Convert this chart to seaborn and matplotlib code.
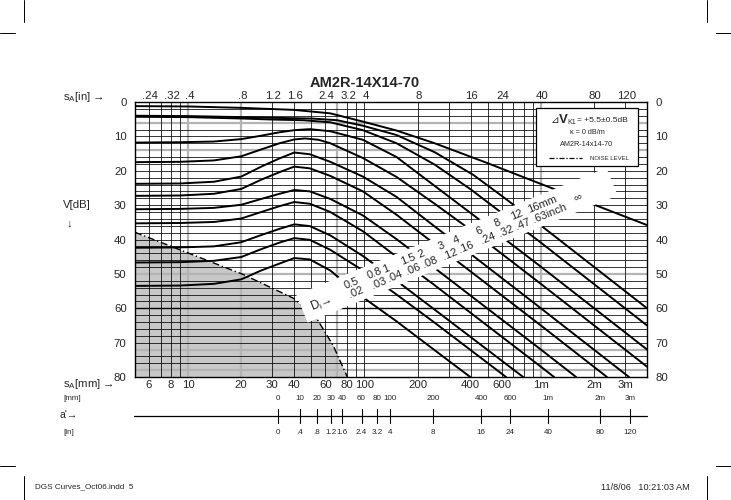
import numpy as np
import pandas as pd
import matplotlib
matplotlib.use("Agg")
import matplotlib.pyplot as plt
import matplotlib.transforms as mtransforms
from matplotlib.patches import Polygon, Rectangle
from matplotlib.lines import Line2D
import seaborn as sns

# ---------------- data ----------------
# distance s_A in mm, gain V in dB
inf_a_mm = [5, 10, 20, 40, 64, 98, 152, 250, 500, 800, 1229]
inf_a_db = [1.2, 1.3, 1.7, 2.3, 3.3, 5.7, 8.3, 12.0, 17.8, 21.9, 25.6]
inf_b_mm = [1900, 4000]
inf_b_db = [29.4, 35.8]
d16_mm = [5, 10, 20, 30, 50, 70, 98, 152, 250, 414, 600, 1000, 4000]
d16_db = [4.0, 4.1, 4.4, 4.6, 4.8, 5.3, 6.9, 9.6, 14.6, 21.2, 27.3, 35.9, 60.0]
d12_mm = [5, 10, 20, 30, 45, 64, 98, 152, 250, 400, 1000, 4000]
d12_db = [4.3, 4.4, 4.8, 5.1, 5.3, 5.9, 8.2, 12.0, 18.2, 25.4, 40.9, 65.0]
d8_mm = [5, 9, 14, 20, 26, 33, 40, 49, 64, 98, 152, 250, 400, 1000, 4000]
d8_db = [11.8, 11.7, 11.5, 10.8, 9.8, 8.8, 8.2, 7.9, 8.5, 11.0, 16.0, 24.4, 32.3, 47.9, 72.0]
d6_mm = [5, 9, 14, 20, 26, 33, 40, 46, 55, 64, 98, 152, 250, 400, 1000, 4000]
d6_db = [17.5, 17.4, 17.0, 15.8, 13.8, 12.0, 10.9, 10.6, 11.0, 12.0, 16.3, 21.8, 29.6, 37.2, 52.9, 77.0]
d4_mm = [5, 9, 14, 20, 26, 33, 40, 49, 64, 98, 152, 250, 400, 1000, 3162]
d4_db = [23.8, 23.7, 23.2, 21.7, 18.8, 16.4, 14.7, 15.2, 17.4, 21.7, 27.6, 36.2, 44.2, 60.0, 80.0]
d3_mm = [5, 9, 14, 20, 26, 33, 40, 49, 64, 98, 152, 250, 400, 1000, 2371]
d3_db = [27.3, 27.2, 26.7, 25.3, 22.6, 20.4, 18.8, 19.3, 21.5, 26.0, 32.8, 41.3, 49.3, 65.0, 80.0]
d2_mm = [5, 9, 14, 20, 26, 33, 40, 49, 64, 98, 152, 250, 1000, 1585]
d2_db = [31.2, 31.1, 30.8, 29.9, 28.2, 26.7, 25.6, 26.0, 28.2, 33.0, 39.9, 48.3, 72.0, 80.0]
d15_mm = [5, 9, 14, 20, 26, 33, 40, 49, 64, 98, 152, 250, 1000, 1189]
d15_db = [35.3, 35.2, 34.9, 33.9, 32.0, 30.3, 29.1, 29.6, 32.0, 37.6, 45.0, 53.3, 77.0, 80.0]
d1_mm = [5, 9, 14, 20, 26, 33, 40, 49, 64, 98, 152, 250, 794]
d1_db = [42.4, 42.3, 42.0, 40.8, 38.7, 36.9, 35.6, 36.1, 38.8, 44.8, 52.0, 60.4, 80.0]
d08_mm = [5, 9, 14, 20, 26, 33, 40, 49, 64, 98, 152, 250, 635]
d08_db = [46.7, 46.6, 46.2, 45.1, 42.8, 40.9, 39.6, 40.1, 43.0, 49.0, 56.0, 64.2, 80.0]
d05_mm = [5, 9, 14, 20, 26, 33, 40, 49, 64, 76, 98, 152, 250, 398]
d05_db = [53.5, 53.4, 52.9, 51.6, 49.0, 47.0, 45.4, 45.8, 49.0, 52.2, 56.8, 63.8, 72.2, 80.0]

noise_mm = [5, 9, 20.6, 39.6, 53.5, 66.4, 80]
noise_db = [37.9, 43.0, 50.2, 57.1, 62.9, 70.8, 80.0]

D_mm_labels = ["0.5", "0.8", "1", "1.5", "2", "3", "4", "6", "8", "12", "16mm"]
D_in_labels = [".02", ".03", ".04", ".06", ".08", ".12", ".16", ".24", ".32", ".47", ".63inch"]

bottom_ticks = [6, 8, 10, 20, 30, 40, 60, 80, 100, 200, 400, 600, 1000, 2000, 3000]
bottom_labels = ["6", "8", "10", "20", "30", "40", "60", "80", "100", "200", "400", "600", "1m", "2m", "3m"]
top_ticks_in = [0.24, 0.32, 0.4, 0.8, 1.2, 1.6, 2.4, 3.2, 4, 8, 16, 24, 40, 80, 120]
top_labels = [".24", ".32", ".4", ".8", "1.2", "1.6", "2.4", "3.2", "4", "8", "16", "24", "40", "80", "120"]
db_ticks = [0, 10, 20, 30, 40, 50, 60, 70, 80]

aprime_mm = [0, 10, 20, 30, 40, 60, 80, 100, 200, 400, 600, 1000, 2000, 3000]
aprime_mm_labels = ["0", "10", "20", "30", "40", "60", "80", "100", "200", "400", "600", "1m", "2m", "3m"]
aprime_in_labels = ["0", ".4", ".8", "1.2", "1.6", "2.4", "3.2", "4", "8", "16", "24", "40", "80", "120"]

grid_v_black = [6, 7, 8, 9, 30, 40, 50, 60, 80, 90, 100, 200, 300, 400, 500, 600, 700, 800, 900, 2000, 3000]
grid_v_gray = [10, 20, 70, 1000]
grid_h_gray = [6, 14, 50, 72, 78]
grid_h_bold = [60]

# ---------------- build table ----------------
series = {
    "inf_a": (inf_a_mm, inf_a_db), "inf_b": (inf_b_mm, inf_b_db),
    "16": (d16_mm, d16_db), "12": (d12_mm, d12_db), "8": (d8_mm, d8_db),
    "6": (d6_mm, d6_db), "4": (d4_mm, d4_db), "3": (d3_mm, d3_db),
    "2": (d2_mm, d2_db), "1.5": (d15_mm, d15_db), "1": (d1_mm, d1_db),
    "0.8": (d08_mm, d08_db), "0.5": (d05_mm, d05_db),
}
rows = []
for name, (xs, ys) in series.items():
    for i, (x, y) in enumerate(zip(xs, ys)):
        rows.append({"curve": name, "order": i, "mm": x, "dB": y})
df = pd.DataFrame(rows)

# ---------------- style ----------------
sns.set_style("white")
plt.rcParams["font.family"] = ["Liberation Sans", "DejaVu Sans"]
plt.rcParams["mathtext.fontset"] = "custom"
plt.rcParams["mathtext.rm"] = "Liberation Sans"

W, H = 731, 500
fig = plt.figure(figsize=(W / 100, H / 100), dpi=100)
fig.patch.set_facecolor("white")


def P(x, y):
    return (x / W, 1 - y / H)


ax = fig.add_axes([135 / W, 1 - 377 / H, 512 / W, 275 / H])
ax.set_xscale("log")
ax.set_xlim(5, 4000)
ax.set_ylim(80, 0)

# noise region
ax.fill_between(noise_mm, noise_db, 80, color="#c8c8c8", lw=0, zorder=0)

# grid
for y in range(2, 80, 2):
    if y in grid_h_gray:
        ax.axhline(y, color="#b4b4b4", lw=1.6, zorder=1)
    elif y in grid_h_bold:
        ax.axhline(y, color="black", lw=1.0, zorder=1.2)
    else:
        ax.axhline(y, color="black", lw=0.55, zorder=1.2)
for x in grid_v_black:
    ax.axvline(x, color="black", lw=0.55, zorder=1.2)
for x in grid_v_gray:
    ax.axvline(x, color="#b4b4b4", lw=1.6, zorder=1)

# noise boundary
ax.plot(noise_mm, noise_db, color="black", lw=1.0, ls=(0, (5, 2, 1, 2)), zorder=3)

# DGS curves
sns.lineplot(data=df, x="mm", y="dB", units="curve", estimator=None, sort=False,
             color="black", lw=1.4, ax=ax, zorder=4, legend=False)

ax.set_xlim(5, 4000)
ax.set_ylim(80, 0)
ax.set_xlabel("")
ax.set_ylabel("")
for s in ax.spines.values():
    s.set_color("black")
    s.set_linewidth(1.0)
    s.set_zorder(10)

ax.set_xticks(bottom_ticks)
ax.set_xticklabels(bottom_labels)
ax.xaxis.set_minor_locator(matplotlib.ticker.NullLocator())
ax.set_yticks(db_ticks)
ax.set_yticklabels([str(v) for v in db_ticks])
ax.tick_params(axis="both", length=0, labelsize=8.2, pad=3)
ax.tick_params(axis="y", pad=6, labelright=True, labelleft=True)
ax.tick_params(axis="x", pad=2)

axt = ax.twiny()
axt.set_xscale("log")
axt.set_xlim(5, 4000)
axt.set_xticks([v * 25.4 for v in top_ticks_in])
axt.set_xticklabels(top_labels)
axt.xaxis.set_minor_locator(matplotlib.ticker.NullLocator())
axt.tick_params(axis="x", length=0, labelsize=8.2, pad=0.5)
for s in axt.spines.values():
    s.set_visible(False)

# diagonal white band with reflector sizes
ang = 22.3
th = np.deg2rad(ang)
hw = 15
nx, ny = np.sin(th) * hw, np.cos(th) * hw
x1, x2 = 302.0, 612.0
y1 = 289 - 0.41 * (x1 - 350)
y2 = 289 - 0.41 * (x2 - 350)
band = Polygon([P(x1 - nx, y1 - ny), P(x2 - nx, y2 - ny), P(x2 + nx, y2 + ny), P(x1 + nx, y1 + ny)],
               closed=True, transform=fig.transFigure, facecolor="white", edgecolor="none", zorder=6)
ax.add_patch(band)

lab_x = [346, 369, 385, 403, 420, 440, 456, 478, 496, 513, 530]
for xm, tmm, tin in zip(lab_x, D_mm_labels, D_in_labels):
    yc = 289 - 0.41 * (xm - 350)
    dx, dy = np.sin(th) * 5, np.cos(th) * 5
    fig.text(*P(xm - dx, yc - dy), tmm, rotation=ang, ha="left", va="center",
             fontsize=8, rotation_mode="anchor", zorder=7)
    fig.text(*P(xm + dx + 1, yc + dy), tin, rotation=ang, ha="left", va="center",
             fontsize=8, rotation_mode="anchor", zorder=7)
fig.text(*P(311, 308), "D$_\\mathrm{i}$→", rotation=ang, ha="left", va="center",
         fontsize=8.5, rotation_mode="anchor")
fig.text(*P(577, 197), "∞", rotation=ang, ha="center", va="center", fontsize=8, rotation_mode="anchor")

# legend box
ax.add_patch(Rectangle(P(536, 166), 102 / W, 58 / H, transform=fig.transFigure,
                       facecolor="white", edgecolor="black", lw=0.9, zorder=8))
fig.text(*P(551, 120), "⊿", fontsize=7.5, ha="left", va="center", zorder=9)
fig.text(*P(559, 120), "V", fontsize=9.5, fontweight="bold", ha="left", va="center", zorder=9)
fig.text(*P(567, 122), "K1", fontsize=5, ha="left", va="center", zorder=9)
fig.text(*P(577, 120), "= +5.5±0.5dB", fontsize=6, ha="left", va="center", zorder=9)
fig.text(*P(587, 132), "κ = 0 dB/m", fontsize=5.2, ha="center", va="center", zorder=9)
fig.text(*P(587, 145), "AM2R-14x14-70", fontsize=5.2, ha="center", va="center", zorder=9)
fig.add_artist(Line2D([549 / W, 582 / W], [1 - 158 / H, 1 - 158 / H], color="black",
                      lw=0.9, ls=(0, (4, 1.5, 1, 1.5)), zorder=9))
fig.text(*P(590, 158), "NOISE LEVEL", fontsize=4.3, ha="left", va="center", zorder=9)

# title and axis captions
fig.text(*P(365, 83), "AM2R-14X14-70", fontsize=10.5, fontweight="bold", ha="center", va="center")
fig.text(*P(63, 97), "s$_\\mathrm{A}$[in] →", fontsize=8.2, ha="left", va="center")
fig.text(*P(63, 205), "V[dB]", fontsize=8.2, ha="left", va="center")
fig.text(*P(66, 223), "↓", fontsize=8.2, ha="left", va="center")
fig.text(*P(63, 384), "s$_\\mathrm{A}$[mm] →", fontsize=8.2, ha="left", va="center")

# a' scale
bt = mtransforms.blended_transform_factory(ax.transData, fig.transFigure)
fig.add_artist(Line2D([4.95, 4000], [1 - 416 / H] * 2, transform=bt, color="black", lw=0.9))
for a, lm, li in zip(aprime_mm, aprime_mm_labels, aprime_in_labels):
    s = (a + 30.5) / 0.94
    fig.add_artist(Line2D([s, s], [1 - 409 / H, 1 - 423 / H], transform=bt, color="black", lw=0.8))
    fig.text(s, 1 - 398 / H, lm, transform=bt, fontsize=5.8, ha="center", va="center")
    fig.text(s, 1 - 432 / H, li, transform=bt, fontsize=5.8, ha="center", va="center")
fig.text(*P(63, 398), "[mm]", fontsize=5.8, ha="left", va="center")
fig.text(*P(60, 415), "a'→", fontsize=7.5, ha="left", va="center")
fig.text(*P(63, 432), "[in]", fontsize=5.8, ha="left", va="center")

# page furniture
fig.text(*P(35, 487), "DGS Curves_Oct06.indd  5", fontsize=5.9, ha="left", va="center")
fig.text(*P(690, 487), "11/8/06   10:21:03 AM", fontsize=6.6, ha="right", va="center")
for (xa, ya, xb, yb) in [(24, 0, 24, 22), (0, 33, 15, 33), (707, 0, 707, 22), (716, 33, 731, 33),
                         (0, 466, 15, 466), (716, 466, 731, 466), (24, 476, 24, 500), (707, 476, 707, 500)]:
    fig.add_artist(Line2D([xa / W, xb / W], [1 - ya / H, 1 - yb / H], color="black", lw=0.7))

fig.savefig("out.png", dpi=100, facecolor="white")
